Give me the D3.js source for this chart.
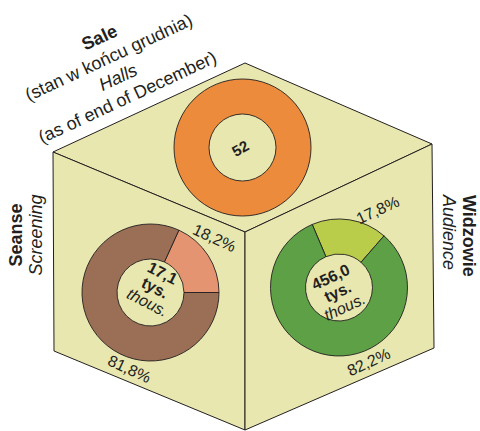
<!DOCTYPE html>
<html>
<head>
<meta charset="utf-8">
<script src="https://cdn.jsdelivr.net/npm/d3@7"></script>
<style>
  html, body { margin: 0; padding: 0; background: #fff; }
  svg { display: block; font-family: "Liberation Sans", Arial, sans-serif; }
</style>
</head>
<body>
<svg id="chart" width="480" height="431"></svg>
<script>
// Values shown on the cube faces
const hallsTitle = ["Sale", "(stan w końcu grudnia)", "Halls", "(as of end of December)"];
const hallsCount = [52];

const screeningTitle = ["Seanse", "Screening"];
const screeningLabels = ["18,2%", "81,8%"];
const screeningShares = [18.2, 81.8];
const screeningTotal = ["17,1", "tys.", "thous."];

const audienceTitle = ["Widzowie", "Audience"];
const audienceLabels = ["17,8%", "82,2%"];
const audienceShares = [17.8, 82.2];
const audienceTotal = ["456,0", "tys.", "thous."];

const svg = d3.select("#chart");
const deg = Math.PI / 180;
const ink = "#231f20";
const faceFill = "#e8e7b0";

// Cube corners and its three visible faces
const P = {
  T: [245, 63], L: [53, 152], R: [432, 144], C: [245, 232],
  LB: [54, 351], RB: [434, 348], B: [245, 430]
};
const faces = [
  [P.T, P.R, P.C, P.L],
  [P.L, P.C, P.B, P.LB],
  [P.C, P.R, P.RB, P.B]
];
svg.append("g").selectAll("path").data(faces).join("path")
  .attr("d", d => d3.line()(d) + "Z")
  .attr("fill", faceFill)
  .attr("stroke", ink)
  .attr("stroke-width", 1)
  .attr("stroke-linejoin", "round");

const outerR = 68.5, innerR = 33.5;
const arc = d3.arc().innerRadius(innerR).outerRadius(outerR);

function donut(cx, cy, values, colors, startDeg) {
  const pie = d3.pie().sort(null).value(d => d)
    .startAngle(startDeg * deg).endAngle(startDeg * deg + 2 * Math.PI);
  const g = svg.append("g").attr("transform", `translate(${cx},${cy})`);
  g.selectAll("path").data(pie(values)).join("path")
    .attr("d", arc)
    .attr("fill", (d, i) => colors[i])
    .attr("stroke", ink)
    .attr("stroke-width", 0.9);
  return g;
}

// Top face: halls ring
donut(242.5, 147.5, hallsCount, ["#ec8b3c"], 0);

// Left face: screenings, small share ending at 3 o'clock
const scrStart = 90 - screeningShares[0] / 100 * 360;
donut(150.5, 292.5, screeningShares, ["#e49470", "#9a6f56"], scrStart);

// Right face: audience
donut(339, 287.5, audienceShares, ["#b9cd4a", "#5da046"], -23);

// Multi-line text laid out in a rotated frame
function block(x, y, rot, lines, styles, size, spacing, anchor) {
  const g = svg.append("g")
    .attr("transform", `translate(${x},${y}) rotate(${rot})`);
  g.selectAll("text").data(lines).join("text")
    .attr("x", 0)
    .attr("y", (d, i) => i * spacing)
    .attr("text-anchor", anchor || "middle")
    .attr("font-size", size)
    .attr("fill", ink)
    .attr("font-weight", (d, i) => styles[i] === "b" ? "bold" : "normal")
    .attr("font-style", (d, i) => styles[i] === "i" ? "italic" : "normal")
    .text(d => d);
}

// Halls count
block(243, 153, -30, [d3.format("d")(hallsCount[0])], ["b"], 15, 0);

// Donut centre totals
block(160, 278, 27, screeningTotal, ["b", "b", "i"], 16, 16.5);
block(333, 282, -25, audienceTotal, ["b", "b", "i"], 16, 16.5);

// Percentage labels
block(212, 243, 25, [screeningLabels[0]], ["n"], 16, 0);
block(127, 374, 25, [screeningLabels[1]], ["n"], 16, 0);
block(380, 215, -25, [audienceLabels[0]], ["n"], 16, 0);
block(371, 367, -25, [audienceLabels[1]], ["n"], 16, 0);

// Face titles
block(102, 43, -25, hallsTitle, ["b", "n", "i", "n"], 18, 22);
block(22, 235, -90, screeningTitle, ["b", "i"], 18, 20);
block(463, 195, 90, audienceTitle, ["b", "i"], 18, 20, "start");
</script>
</body>
</html>
